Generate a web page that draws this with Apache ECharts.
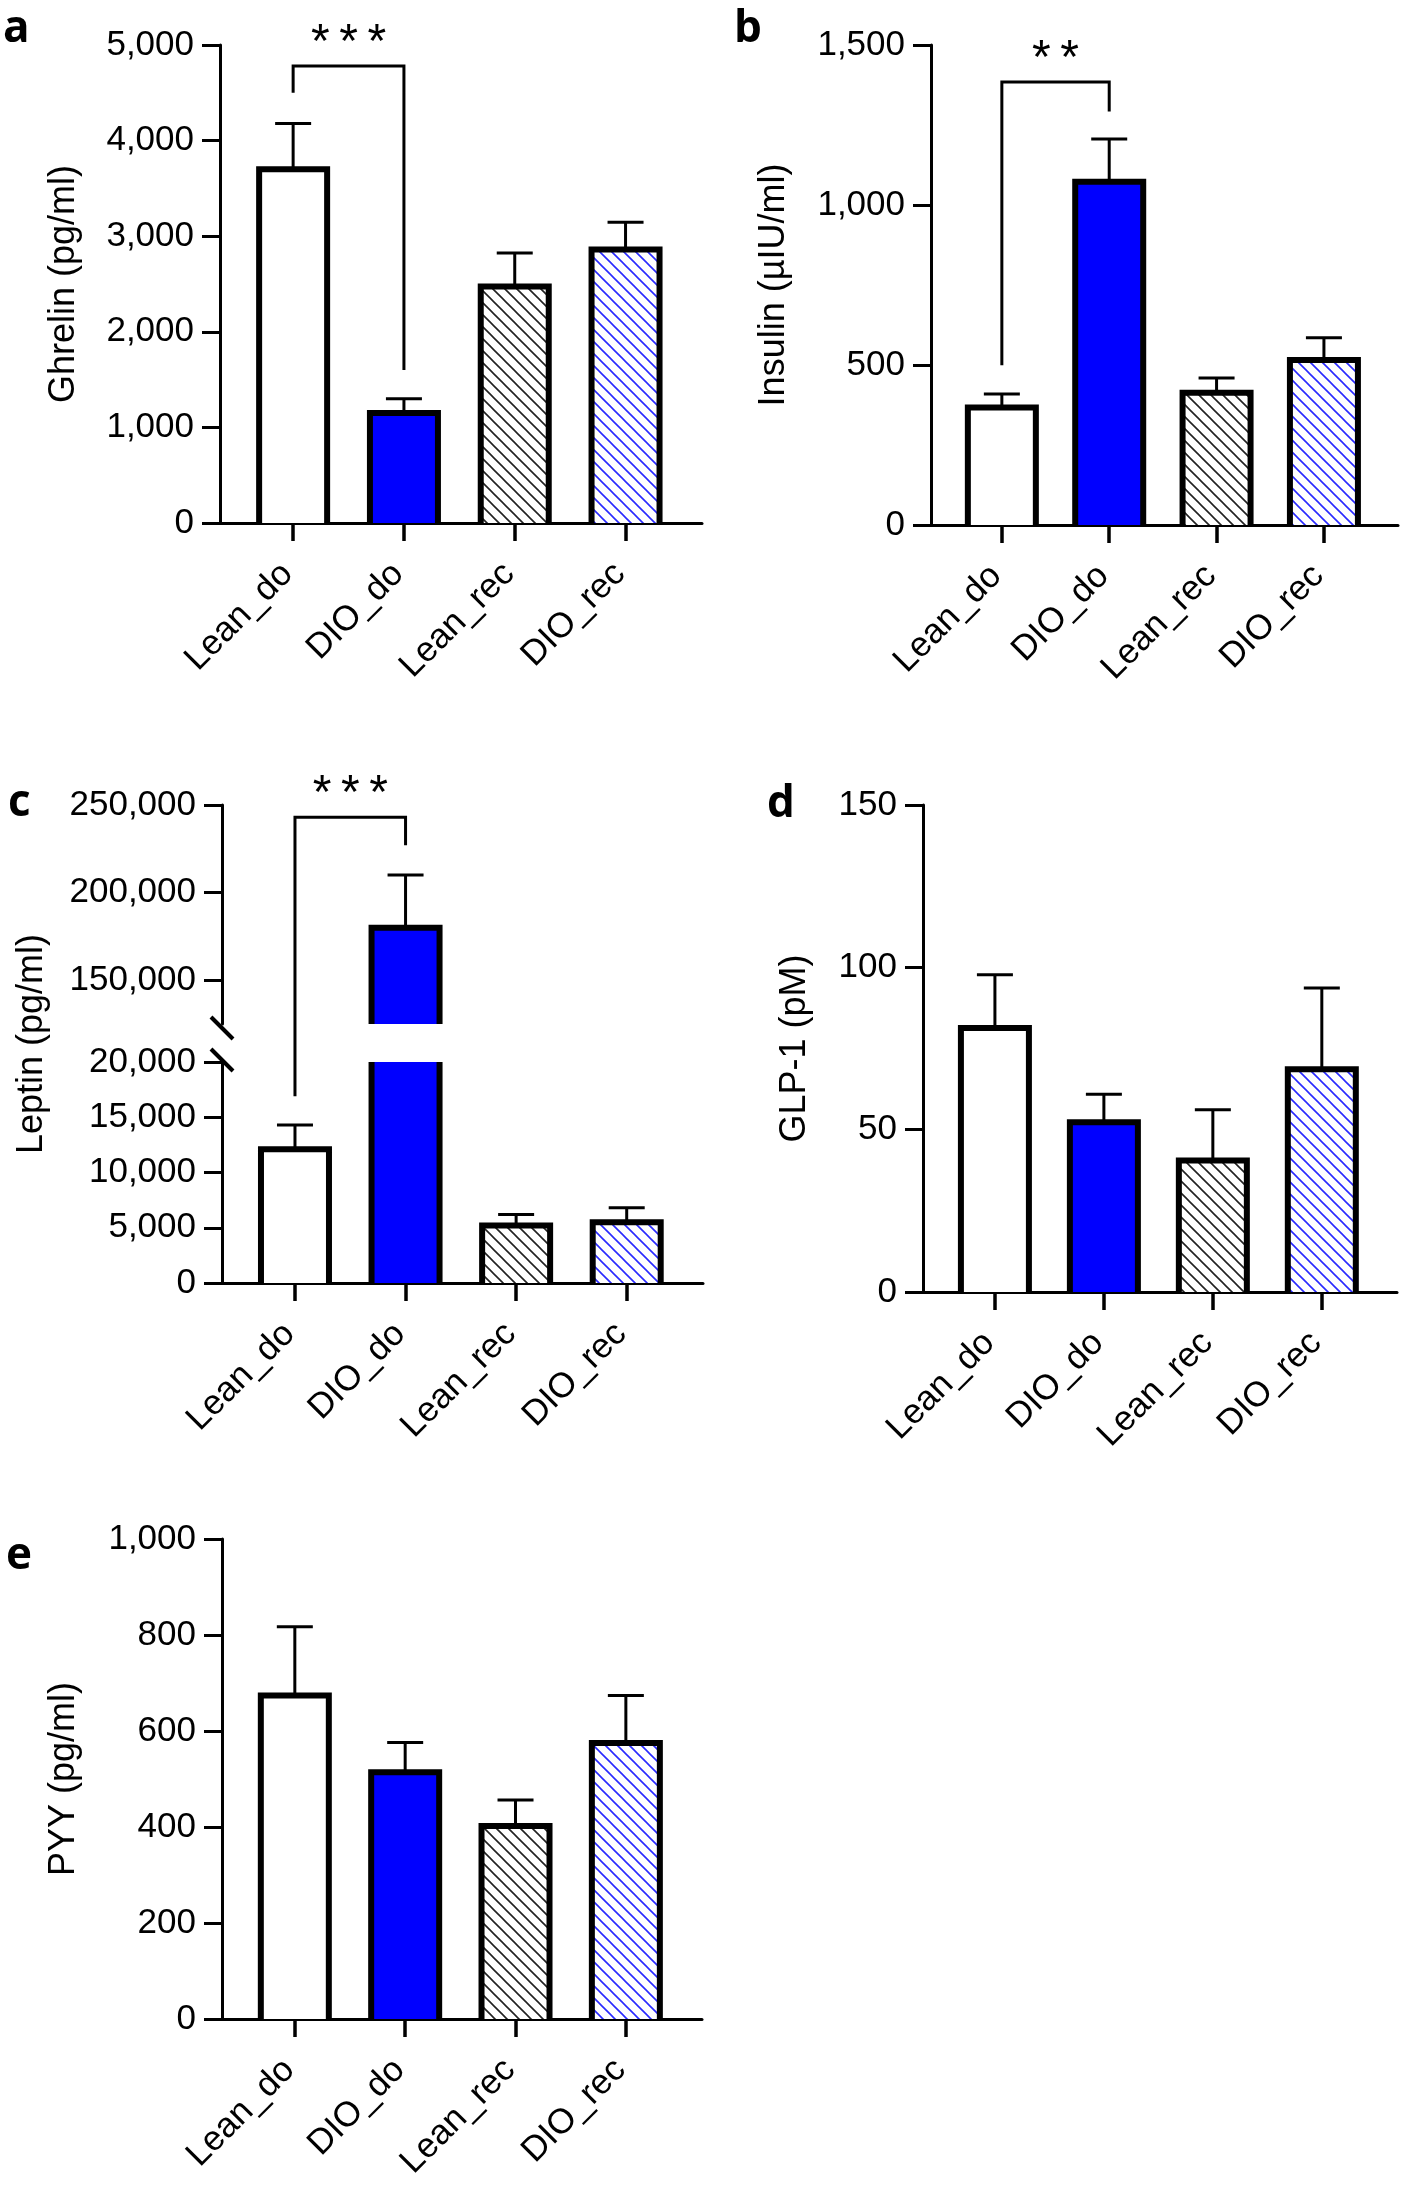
<!DOCTYPE html>
<html><head><meta charset="utf-8">
<script src="https://cdn.jsdelivr.net/npm/echarts@6/dist/echarts.min.js"></script>
<style>html,body{margin:0;padding:0;background:#fff;}#c{width:1416px;height:2185px;}</style>
</head><body><div id="c"></div>
<script>
// ---------- data ----------
const categories = ['Lean_do', 'DIO_do', 'Lean_rec', 'DIO_rec'];
const catIndex = [0, 1, 2, 3];

const ghrelinMean = [3700, 1150, 2475, 2860];
const ghrelinErrTop = [4180, 1300, 2825, 3145];
const insulinMean = [367, 1073, 413, 516];
const insulinErrTop = [409, 1206, 459, 585];
const leptinMean = [12100, 180000, 5200, 5500];
const leptinErrTop = [14300, 210000, 6200, 6800];
const glp1Mean = [81.3, 52.3, 40.5, 68.6];
const glp1ErrTop = [97.7, 60.9, 56.1, 93.6];
const pyyMean = [674, 514, 402, 575];
const pyyErrTop = [817, 576, 456, 674];

const ghrelinTicks = [0, 1000, 2000, 3000, 4000, 5000];
const insulinTicks = [0, 500, 1000, 1500];
const leptinLowTicks = [0, 5000, 10000, 15000, 20000];
const leptinHighTicks = [150000, 200000, 250000];
const glp1Ticks = [0, 50, 100, 150];
const pyyTicks = [0, 200, 400, 600, 800, 1000];

// significance brackets: [x1, x2, topValue, leftLegBottom, rightLegBottom]
const sigGhrelin = [0, 1, 4780, 4500, 1600];
const sigInsulin = [0, 1, 1384, 499, 1292];
const sigLeptin = [0, 1, 243000, 16900, 227000];

// ---------- style ----------
const FONT = '"Liberation Sans", Arial, sans-serif';
const TICK_FS = 35, NAME_FS = 36;
const BAR_W = 68, BW = 6, CAP = 18;
const X_MIN = -0.66, X_MAX = 3.69;

function hatch(color) {
  const s = 12, c = document.createElement('canvas');
  c.width = s; c.height = s;
  const g = c.getContext('2d');
  g.fillStyle = '#fff'; g.fillRect(0, 0, s, s);
  g.strokeStyle = color; g.lineWidth = 1.6;
  g.beginPath();
  for (let k = -1; k <= 1; k++) { g.moveTo(-s, -s + k * s); g.lineTo(2 * s, 2 * s + k * s); }
  g.stroke();
  return c;
}
const FILLS = ['#ffffff', '#0000ff', { image: hatch('#222222'), repeat: 'repeat' }, { image: hatch('#2a2aff'), repeat: 'repeat' }];

function barItem(params, api) {
  const i = api.value(0), v = api.value(1);
  const cs = params.coordSys;
  const top = api.coord([i, v]), base = api.coord([i, 0]);
  const cx = top[0], hw = BAR_W / 2;
  const yTop = Math.max(top[1], cs.y), yBot = Math.min(base[1], cs.y + cs.height);
  if (yBot <= yTop) return null;
  const children = [{ type: 'rect', shape: { x: cx - hw, y: yTop, width: BAR_W, height: yBot - yTop }, style: { fill: FILLS[i] } }];
  if (top[1] < cs.y - 0.5) {
    children.push({ type: 'line', shape: { x1: cx - hw, y1: yTop, x2: cx - hw, y2: yBot }, style: { stroke: '#000', lineWidth: BW } });
    children.push({ type: 'line', shape: { x1: cx + hw, y1: yTop, x2: cx + hw, y2: yBot }, style: { stroke: '#000', lineWidth: BW } });
  } else {
    children.push({ type: 'polyline', shape: { points: [[cx - hw, yBot], [cx - hw, yTop], [cx + hw, yTop], [cx + hw, yBot]] }, style: { stroke: '#000', fill: null, lineWidth: BW, lineJoin: 'miter' } });
  }
  return { type: 'group', children };
}
function errItem(params, api) {
  const i = api.value(0), m = api.value(1), e = api.value(2);
  const cs = params.coordSys;
  const p0 = api.coord([i, m]), p1 = api.coord([i, e]);
  if (p1[1] < cs.y - 2 || p0[1] > cs.y + cs.height + 2) return null;
  return { type: 'group', children: [
    { type: 'line', shape: { x1: p0[0], y1: p0[1], x2: p1[0], y2: p1[1] }, style: { stroke: '#000', lineWidth: 3 } },
    { type: 'line', shape: { x1: p1[0] - CAP, y1: p1[1], x2: p1[0] + CAP, y2: p1[1] }, style: { stroke: '#000', lineWidth: 3 } }
  ] };
}

const grids = [
  { left: 220, top: 45, width: 482, height: 478 },   // a
  { left: 931, top: 45, width: 467, height: 480 },   // b
  { left: 222, top: 805, width: 481, height: 219 },  // c upper
  { left: 222, top: 1062, width: 481, height: 221 }, // c lower
  { left: 923, top: 805, width: 474, height: 487 },  // d
  { left: 222, top: 1539, width: 480, height: 480 }, // e
  { left: 222, top: 805, width: 481, height: 478 }   // c title holder
];

const fmt = v => Number(v).toLocaleString('en-US');
function xAx(g, show) {
  return {
    type: 'value', gridIndex: g, min: X_MIN, max: X_MAX, show: show !== false,
    axisLine: { show: true, onZero: false, lineStyle: { color: '#000', width: 3 } },
    axisTick: { show: true, customValues: catIndex, length: 18, lineStyle: { color: '#000', width: 3.5 } },
    axisLabel: { show: true, customValues: catIndex, formatter: v => categories[Math.round(v)] || '', rotate: 45, margin: 40, padding: [0, 8, 0, 0], fontSize: TICK_FS, color: '#000', fontFamily: FONT },
    splitLine: { show: false }
  };
}
function yAx(g, ticks, name, nameGap, extra) {
  const o = {
    type: 'value', gridIndex: g, min: ticks[0], max: ticks[ticks.length - 1], interval: ticks[1] - ticks[0],
    axisLine: { show: true, onZero: false, lineStyle: { color: '#000', width: 3 } },
    axisTick: { show: true, length: 18, lineStyle: { color: '#000', width: 3 } },
    axisLabel: { margin: 26, fontSize: TICK_FS, color: '#000', fontFamily: FONT, formatter: fmt },
    splitLine: { show: false },
    name: name || '', nameLocation: 'middle', nameGap: nameGap || 0,
    nameTextStyle: { fontSize: NAME_FS, color: '#000', fontFamily: FONT }
  };
  return Object.assign(o, extra || {});
}

const xAxes = [xAx(0), xAx(1), xAx(2, false), xAx(3), xAx(4), xAx(5), xAx(6, false)];
const yAxes = [
  yAx(0, ghrelinTicks, 'Ghrelin (pg/ml)', 138),
  yAx(1, insulinTicks, 'Insulin (µIU/ml)', 139),
  yAx(2, leptinHighTicks, '', 0, {
    min: 125000, max: 250000, interval: undefined,
    axisTick: { show: true, customValues: leptinHighTicks, length: 18, lineStyle: { color: '#000', width: 3 } },
    axisLabel: { customValues: leptinHighTicks, margin: 26, fontSize: TICK_FS, color: '#000', fontFamily: FONT, formatter: fmt }
  }),
  yAx(3, leptinLowTicks, '', 0),
  yAx(4, glp1Ticks, 'GLP-1 (pM)', 110),
  yAx(5, pyyTicks, 'PYY (pg/ml)', 140),
  yAx(6, [0, 1], 'Leptin (pg/ml)', 172, { axisLine: { show: false }, axisTick: { show: false }, axisLabel: { show: false } })
];

function rows(mean, errTop) { return catIndex.map(i => [i, mean[i], errTop[i]]); }
const series = [];
function addPanel(g, mean, errTop) {
  series.push({ type: 'custom', xAxisIndex: g, yAxisIndex: g, renderItem: barItem, data: rows(mean, errTop), z: 2 });
  series.push({ type: 'custom', xAxisIndex: g, yAxisIndex: g, renderItem: errItem, data: rows(mean, errTop), z: 3 });
}
addPanel(0, ghrelinMean, ghrelinErrTop);
addPanel(1, insulinMean, insulinErrTop);
addPanel(2, leptinMean, leptinErrTop);
addPanel(3, leptinMean, leptinErrTop);
addPanel(4, glp1Mean, glp1ErrTop);
addPanel(5, pyyMean, pyyErrTop);

const letters = [['a', 3, 29], ['b', 734, 29], ['c', 8, 803], ['d', 767, 804], ['e', 6, 1556]];

const chart = echarts.init(document.getElementById('c'), null, { renderer: 'canvas', width: 1416, height: 2185 });
chart.setOption({
  animation: false,
  backgroundColor: '#fff',
  grid: grids,
  xAxis: xAxes,
  yAxis: yAxes,
  series: series
});

// annotations placed through the axes' own scales
const px = (g, x, y) => chart.convertToPixel({ gridIndex: g }, [x, y]);
const gfx = [];
letters.forEach(([t, x, y]) => gfx.push({ type: 'text', x: x, y: y, style: { text: t, textVerticalAlign: 'middle', textAlign: 'left', font: 'bold 44px "Open Sans", "Noto Sans", sans-serif', fill: '#000' } }));
function bracket(gLeft, gTop, gRight, sig, label) {
  const [x1, x2, topV, lV, rV] = sig;
  const pL = px(gLeft, x1, lV), pLT = px(gTop, x1, topV), pRT = px(gTop, x2, topV), pR = px(gRight, x2, rV);
  gfx.push({ type: 'polyline', shape: { points: [pL, pLT, pRT, pR] }, style: { stroke: '#000', lineWidth: 3, fill: null } });
  gfx.push({ type: 'text', x: (pLT[0] + pRT[0]) / 2, y: pLT[1] - 22, style: { text: label, textAlign: 'center', textVerticalAlign: 'middle', font: '48px "Liberation Sans", Arial, sans-serif', fill: '#000' } });
}
bracket(0, 0, 0, sigGhrelin, '*\u2009*\u2009*');
bracket(1, 1, 1, sigInsulin, '*\u2009*');
bracket(3, 2, 2, sigLeptin, '*\u2009*\u2009*');
// axis break marks at the ends of the two leptin axis segments
const bu = px(2, X_MIN, 125000), bl = px(3, X_MIN, 20000);
[[bu[0], bu[1] + 4], [bl[0], bl[1] - 2]].forEach(p => gfx.push({ type: 'line', shape: { x1: p[0] - 11, y1: p[1] - 11, x2: p[0] + 11, y2: p[1] + 11 }, style: { stroke: '#000', lineWidth: 4 } }));
chart.setOption({ graphic: { elements: gfx } });
</script>
</body></html>
